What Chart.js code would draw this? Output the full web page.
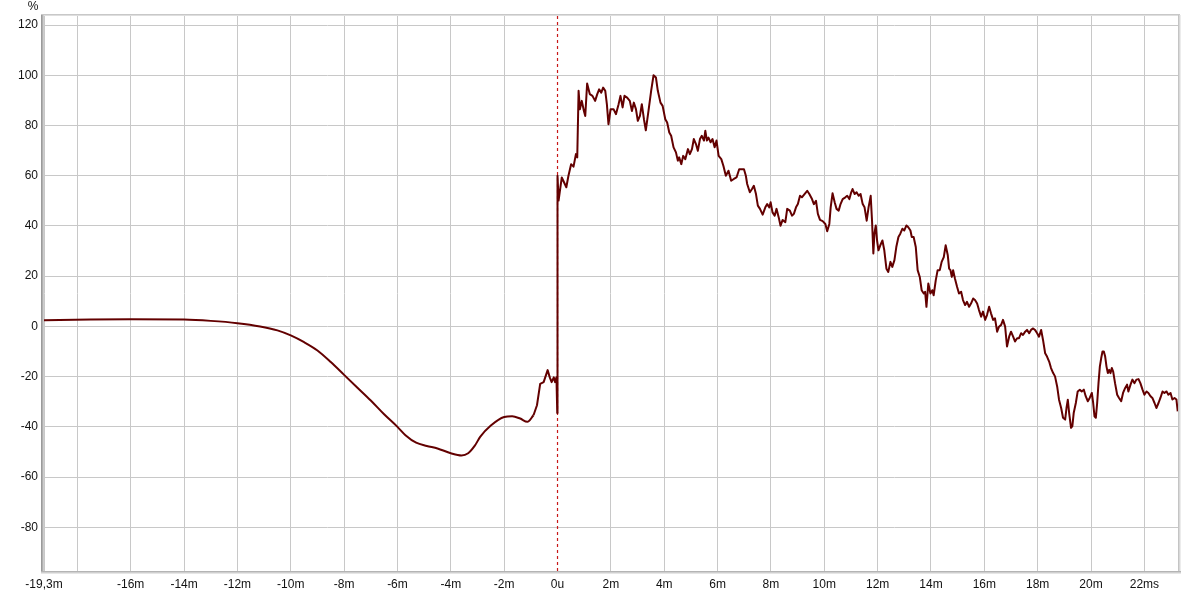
<!DOCTYPE html>
<html>
<head>
<meta charset="utf-8">
<script src="https://cdn.jsdelivr.net/npm/chart.js@4/dist/chart.umd.min.js"></script>
<style>
html,body{margin:0;padding:0;background:#fff;}
#wrap{width:1200px;height:594px;}
</style>
</head>
<body>
<div id="wrap"><canvas id="c" width="1200" height="594"></canvas></div>
<script>
// ---- data (time in ms, response in %) ----
const preTimes = [-19.25, -17.5, -16, -14, -13, -12, -11.15, -10.5, -10, -9.5, -9, -8.5, -8, -7.5, -7, -6.5, -6, -5.7, -5.3, -4.9, -4.5, -4, -3.6, -3.35, -3.1, -2.9, -2.5, -2, -1.7, -1.4, -1.13, -0.9];
const preValues = [2.4, 2.7, 2.8, 2.7, 2.2, 1.3, 0, -1.6, -3.6, -6.3, -9.6, -14.2, -19.3, -24.4, -29.5, -35, -40, -43.3, -46.3, -47.6, -48.6, -50.5, -51.4, -50.5, -47.5, -44, -39.5, -36.1, -35.8, -36.7, -38, -35.4];

const postTimes = [-0.9, -0.77, -0.65, -0.52, -0.37, -0.29, -0.22, -0.14, -0.09, -0.04, -0.01, 0.0, 0.04, 0.16, 0.33, 0.41, 0.51, 0.6, 0.69, 0.74,
 0.79, 0.84, 0.91, 0.99, 1.04, 1.11, 1.21, 1.31, 1.41, 1.49, 1.56, 1.64, 1.71, 1.79, 1.85, 1.91, 1.99, 2.1, 2.19, 2.29,
 2.36, 2.44, 2.51, 2.61, 2.71, 2.79, 2.86, 2.94, 3.01, 3.09, 3.16, 3.24, 3.31, 3.41, 3.51, 3.6, 3.69, 3.76, 3.86, 3.94,
 4.04, 4.11, 4.19, 4.26, 4.35, 4.44, 4.51, 4.56, 4.64, 4.71, 4.79, 4.89, 4.96, 5.04, 5.11, 5.19, 5.26, 5.34, 5.41, 5.49,
 5.54, 5.6, 5.66, 5.74, 5.81, 5.89, 5.96, 6.04, 6.14, 6.22, 6.31, 6.41, 6.51, 6.61, 6.71, 6.81, 6.99, 7.06, 7.11, 7.21,
 7.29, 7.36, 7.44, 7.51, 7.59, 7.69, 7.79, 7.86, 7.94, 7.99, 8.06, 8.14, 8.21, 8.29, 8.36, 8.44, 8.54, 8.61, 8.71, 8.79,
 8.86, 8.94, 9.01, 9.09, 9.16, 9.26, 9.36, 9.44, 9.54, 9.61, 9.69, 9.76, 9.84, 9.94, 10.04, 10.11, 10.19, 10.24, 10.31, 10.39,
 10.46, 10.54, 10.61, 10.69, 10.79, 10.86, 10.94, 11.01, 11.06, 11.14, 11.21, 11.29, 11.36, 11.44, 11.51, 11.59, 11.66, 11.74, 11.79, 11.84,
 11.88, 11.93, 11.98, 12.03, 12.1, 12.18, 12.25, 12.33, 12.4, 12.48, 12.55, 12.63, 12.7, 12.78, 12.85, 12.93, 13.0, 13.08, 13.15, 13.23,
 13.28, 13.35, 13.43, 13.5, 13.58, 13.65, 13.73, 13.78, 13.83, 13.9, 13.98, 14.05, 14.1, 14.18, 14.25, 14.33, 14.4, 14.48, 14.55, 14.63,
 14.68, 14.73, 14.78, 14.83, 14.9, 14.98, 15.05, 15.13, 15.2, 15.28, 15.35, 15.43, 15.5, 15.58, 15.65, 15.73, 15.8, 15.88, 15.95, 16.03,
 16.1, 16.18, 16.25, 16.33, 16.4, 16.48, 16.55, 16.63, 16.7, 16.78, 16.85, 16.93, 17.0, 17.08, 17.15, 17.23, 17.3, 17.38, 17.45, 17.53,
 17.6, 17.68, 17.75, 17.83, 17.9, 17.98, 18.05, 18.13, 18.2, 18.28, 18.35, 18.43, 18.5, 18.58, 18.65, 18.73, 18.8, 18.88, 18.95, 19.03,
 19.08, 19.13, 19.18, 19.25, 19.3, 19.35, 19.43, 19.5, 19.58, 19.65, 19.73, 19.8, 19.88, 19.95, 20.03, 20.08, 20.13, 20.18, 20.23, 20.28,
 20.33, 20.38, 20.43, 20.48, 20.53, 20.58, 20.63, 20.68, 20.73, 20.78, 20.83, 20.9, 20.98, 21.05, 21.13, 21.2, 21.28, 21.35, 21.4, 21.48,
 21.55, 21.63, 21.7, 21.78, 21.85, 21.93, 22.0, 22.08, 22.15, 22.23, 22.3, 22.38, 22.45, 22.53, 22.6, 22.68, 22.75, 22.83, 22.9, 22.98,
 23.05, 23.13, 23.2, 23.25];
const postValues = [-35.4, -31.4, -22.9, -22.2, -17.4, -20.3, -22.2, -20.3, -22.2, -20.3, -34.5, 60, 50.1, 59.3, 55.4, 60, 64.6, 63.6, 68.6, 67.3,
 93.8, 86.5, 89.8, 85.8, 83.8, 96.7, 92.5, 91.8, 89.8, 92.5, 94.4, 93.1, 95.1, 93.8, 88.5, 80.5, 86.5, 86.5, 84.5, 88.5,
 91.8, 87.2, 91.8, 91.1, 89.8, 85.8, 89.1, 86.5, 81.9, 83.8, 88.5, 82.5, 78.1, 85.8, 93.8, 100, 99.1, 93.8, 89.1, 87.8,
 82.5, 81.2, 77.2, 75.9, 71.3, 69.3, 66, 67.3, 64.6, 67.9, 66.6, 70.6, 68.6, 70.6, 74.6, 72.6, 69.9, 74.6, 75.9, 74,
 77.9, 74, 75.2, 73.3, 74.6, 71.3, 74, 67.9, 66.6, 63.9, 60, 62, 58, 58.7, 59.3, 62.6, 62.6, 60, 56.7, 53.4,
 54.7, 56, 52.7, 48.1, 46.8, 44.5, 47.4, 48.7, 47.4, 49.4, 45.4, 44.1, 46.8, 43.5, 40.1, 42.4, 41.5, 46.8, 46.1, 44.1,
 44.8, 47.4, 48.7, 52, 51.4, 52.7, 54, 52.7, 50.7, 48.7, 50, 44.8, 42.4, 41.9, 40.8, 37.9, 40.8, 47.4, 53, 49.4,
 46.8, 46.1, 48.7, 50.7, 51.4, 52, 50.7, 53.4, 54.7, 52.7, 53.4, 52, 52.7, 48.7, 47.4, 42.1, 47.4, 52, 42.1, 29,
 36.9, 40.2, 34.2, 30.3, 32.3, 34.2, 30.3, 23, 21.7, 25.7, 23.7, 26.4, 31.6, 35.6, 36.9, 38.9, 38.2, 40.2, 39.5, 38.2,
 35.6, 35.6, 31.6, 22.4, 19.7, 14.4, 13.1, 13.8, 7.8, 17.1, 13.1, 14.4, 12.4, 18.4, 22.4, 22.4, 25.7, 27.6, 32.3, 28.3,
 23, 22.4, 19.7, 22.4, 19, 15.7, 13.1, 13.8, 10.5, 8.5, 9.8, 7.8, 9.1, 11.1, 10.5, 9.1, 6.5, 3.9, 5.9, 2.6,
 4.5, 7.8, 5.2, 2.6, 3.2, -2.1, -0.1, 0.6, 2.6, -0.1, -8, -4.1, -2.1, -4.1, -6, -4.7, -4.7, -2.7, -3.4, -2.1,
 -1.4, -2.7, -1.4, -0.8, -1.4, -2.7, -4.1, -1.4, -5.4, -10.7, -12, -14, -16.6, -18.6, -19.9, -23.9, -29.2, -32.5, -36.4, -37.1,
 -32.5, -29.2, -34.5, -40.4, -39.7, -34.5, -30.5, -25.9, -25.2, -25.9, -25.2, -27.8, -29.8, -28.5, -26.5, -30.5, -35.8, -36.4, -30.5, -22.6,
 -16, -12.7, -10, -10, -12, -16, -18.6, -17.3, -18.6, -16.6, -18, -22.6, -27.2, -28.5, -29.8, -26.5, -24.5, -23.2, -25.9, -23.2,
 -21.2, -22.6, -21.2, -21, -22.6, -25.2, -27.2, -25.9, -26.5, -27.8, -28.5, -30.5, -32.5, -30.5, -28.5, -25.9, -26.5, -25.9, -27.2, -26.5,
 -29.1, -28.5, -29.1, -33.8];

const xTickValues = [-19.25, -18, -16, -14, -12, -10, -8, -6, -4, -2, 0, 2, 4, 6, 8, 10, 12, 14, 16, 18, 20, 22];
const xTickLabels = ["-19,3m", "", "-16m", "-14m", "-12m", "-10m", "-8m", "-6m", "-4m", "-2m", "0u", "2m", "4m", "6m", "8m", "10m", "12m", "14m", "16m", "18m", "20m", "22ms"];
const yTickValues = [-80, -60, -40, -20, 0, 20, 40, 60, 80, 100, 120];
const yUnit = "%";

// ---- build ----
const lineColor = '#630000';
const toPts = (xs, ys) => xs.map((x, i) => ({x: x, y: ys[i]}));

const decorPlugin = {
  id: 'decor',
  beforeDatasetsDraw(chart) {
    const {ctx, chartArea: a, scales: {x}} = chart;
    const px = x.getPixelForValue(0);
    ctx.save();
    ctx.strokeStyle = '#c81818';
    ctx.lineWidth = 1.2;
    ctx.setLineDash([3, 3]);
    ctx.beginPath();
    ctx.moveTo(px, a.top);
    ctx.lineTo(px, a.bottom);
    ctx.stroke();
    ctx.restore();
  },
  afterDraw(chart) {
    const {ctx, chartArea: a} = chart;
    ctx.save();
    // frame
    ctx.strokeStyle = '#b8b8b8';
    ctx.lineWidth = 1;
    ctx.strokeRect(a.left - 0.5, a.top - 0.5, a.right - a.left + 1, a.bottom - a.top + 1);
    // left inset band
    const leftCols = ['#9a9a9a', '#b0b0b0', '#cdcdcd'];
    leftCols.forEach((c, i) => { ctx.fillStyle = c; ctx.fillRect(a.left - 3 + i, a.top - 1, 1, a.bottom - a.top + 2); });
    // top
    ctx.fillStyle = '#c8c8c8'; ctx.fillRect(a.left - 3, a.top - 2, a.right - a.left + 5, 1);
    ctx.fillStyle = '#dedede'; ctx.fillRect(a.left, a.top - 1, a.right - a.left, 1);
    // right shadow
    const rightCols = ['#c4c4c4', '#d8d8d8', '#ececec'];
    rightCols.forEach((c, i) => { ctx.fillStyle = c; ctx.fillRect(a.right + i, a.top - 1, 1, a.bottom - a.top + 4); });
    // bottom shadow
    const botCols = ['#b4b4b4', '#cfcfcf', '#e6e6e6'];
    botCols.forEach((c, i) => { ctx.fillStyle = c; ctx.fillRect(a.left - 3, a.bottom + i, a.right - a.left + 6, 1); });
    // unit label
    ctx.fillStyle = '#111';
    ctx.font = '12px "Liberation Sans", Arial, sans-serif';
    ctx.textAlign = 'center';
    ctx.textBaseline = 'middle';
    ctx.fillText(yUnit, 33, 7);
    ctx.restore();
  }
};

new Chart(document.getElementById('c'), {
  type: 'line',
  data: {
    datasets: [
      { data: toPts(preTimes, preValues), borderColor: lineColor, borderWidth: 2, pointRadius: 0, cubicInterpolationMode: 'monotone', fill: false },
      { data: toPts(postTimes, postValues), borderColor: lineColor, borderWidth: 2, pointRadius: 0, tension: 0, fill: false, borderJoinStyle: 'round' }
    ]
  },
  options: {
    responsive: false,
    animation: false,
    events: [],
    layout: { padding: { left: 0, top: 16, right: 22, bottom: 0 } },
    plugins: { legend: { display: false }, tooltip: { enabled: false } },
    scales: {
      x: {
        type: 'linear',
        min: -19.25,
        max: 23.26,
        afterBuildTicks: (s) => { s.ticks = xTickValues.map(v => ({value: v})); },
        afterFit: (s) => { s.height = 23; },
        border: { display: false },
        grid: {
          drawTicks: false,
          color: (c) => (c.tick && c.tick.value === 0) ? 'rgba(0,0,0,0)' : '#c8c8c8',
          lineWidth: 1
        },
        ticks: {
          autoSkip: false,
          maxRotation: 0,
          padding: 6,
          color: '#111',
          font: { family: '"Liberation Sans", Arial, sans-serif', size: 12 },
          callback: (v, i) => xTickLabels[i]
        }
      },
      y: {
        type: 'linear',
        min: -97.4,
        max: 123.6,
        afterBuildTicks: (s) => { s.ticks = yTickValues.map(v => ({value: v})); },
        afterFit: (s) => { s.width = 44; },
        border: { display: false },
        grid: { drawTicks: false, color: '#c8c8c8', lineWidth: 1 },
        ticks: {
          padding: 6,
          color: '#111',
          font: { family: '"Liberation Sans", Arial, sans-serif', size: 12 },
          callback: (v) => String(v)
        }
      }
    }
  },
  plugins: [decorPlugin]
});
</script>
</body>
</html>
